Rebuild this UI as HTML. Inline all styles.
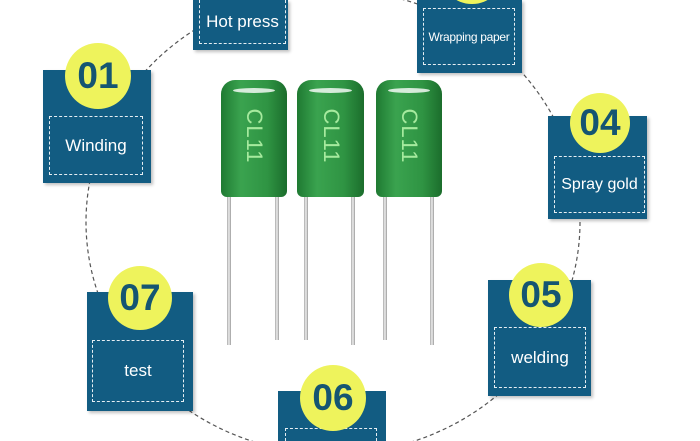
<!DOCTYPE html>
<html style="overflow:hidden"><head><style>
html,body{margin:0;width:700px;height:441px;overflow:hidden}
body{background:#fff;position:relative;font-family:"Liberation Sans",sans-serif}
#w{position:absolute;left:0;top:0;width:700px;height:441px;overflow:hidden}
.b{position:absolute;background:#125c82;box-shadow:2px 2px 3px rgba(0,0,0,.25)}
.d{position:absolute;border:1.5px dashed #e6eef3;color:#fff;display:flex;align-items:center;justify-content:center;font-size:17px;white-space:nowrap;box-sizing:border-box}
.c{position:absolute;border-radius:50%;background:#eef35c;color:#155572;font-size:37px;display:flex;align-items:center;justify-content:center;font-weight:bold}
.cap{position:absolute;border-radius:14px 14px 6px 6px;background:linear-gradient(90deg,#1f7a32,#3aa34f 30%,#2f9443 70%,#1b6d2c)}
.cap span{position:absolute;left:50%;top:56px;transform:translate(-50%,-50%) rotate(90deg);color:#a6ea9e;font-size:22px;letter-spacing:1px}
.cap i{position:absolute;left:12px;right:12px;top:8px;height:5px;border-radius:50%;background:rgba(255,255,255,.8)}
.l{position:absolute;width:4px;background:linear-gradient(90deg,#aaa,#eee,#999)}
</style></head><body><div id="w">
<svg width="700" height="441" style="position:absolute;left:0;top:0">
<ellipse cx="333" cy="222" rx="247" ry="232" fill="none" stroke="#555" stroke-width="1.2" stroke-dasharray="4,3"/>
</svg>
<div class="b" style="left:43px;top:70px;width:108px;height:113px"></div>
<div class="d" style="left:49px;top:116px;width:94px;height:59px">Winding</div>
<div class="c" style="left:65px;top:43px;width:66px;height:66px">01</div>

<div class="b" style="left:193px;top:0;width:95px;height:50px"></div>
<div class="d" style="left:199px;top:0;width:87px;height:44px;border-top:none">Hot press</div>

<div class="b" style="left:417px;top:0;width:105px;height:73px"></div>
<div class="c" style="left:440px;top:-60px;width:64px;height:64px"></div>
<div class="d" style="left:423px;top:8px;width:92px;height:57px;font-size:12px;letter-spacing:-0.3px">Wrapping paper</div>

<div class="b" style="left:548px;top:116px;width:99px;height:103px"></div>
<div class="d" style="left:554px;top:156px;width:91px;height:57px;font-size:16px">Spray gold</div>
<div class="c" style="left:570px;top:93px;width:60px;height:60px">04</div>

<div class="b" style="left:488px;top:280px;width:103px;height:116px"></div>
<div class="d" style="left:494px;top:327px;width:92px;height:61px">welding</div>
<div class="c" style="left:509px;top:263px;width:64px;height:64px">05</div>

<div class="b" style="left:87px;top:292px;width:106px;height:119px"></div>
<div class="d" style="left:92px;top:340px;width:92px;height:62px">test</div>
<div class="c" style="left:108px;top:266px;width:64px;height:64px">07</div>

<div class="b" style="left:278px;top:391px;width:108px;height:50px;box-shadow:none"></div>
<div class="d" style="left:285px;top:428px;width:92px;height:13px;border-bottom:none"></div>
<div class="c" style="left:300px;top:365px;width:66px;height:66px">06</div>

<div class="l" style="left:227px;top:195px;height:150px"></div>
<div class="l" style="left:275px;top:195px;height:145px"></div>
<div class="l" style="left:304px;top:195px;height:145px"></div>
<div class="l" style="left:351px;top:195px;height:150px"></div>
<div class="l" style="left:383px;top:195px;height:145px"></div>
<div class="l" style="left:430px;top:195px;height:150px"></div>
<div class="cap" style="left:221px;top:80px;width:66px;height:117px"><i></i><span>CL11</span></div>
<div class="cap" style="left:297px;top:80px;width:67px;height:117px"><i></i><span>CL11</span></div>
<div class="cap" style="left:376px;top:80px;width:66px;height:117px"><i></i><span>CL11</span></div>
</div></body></html>
